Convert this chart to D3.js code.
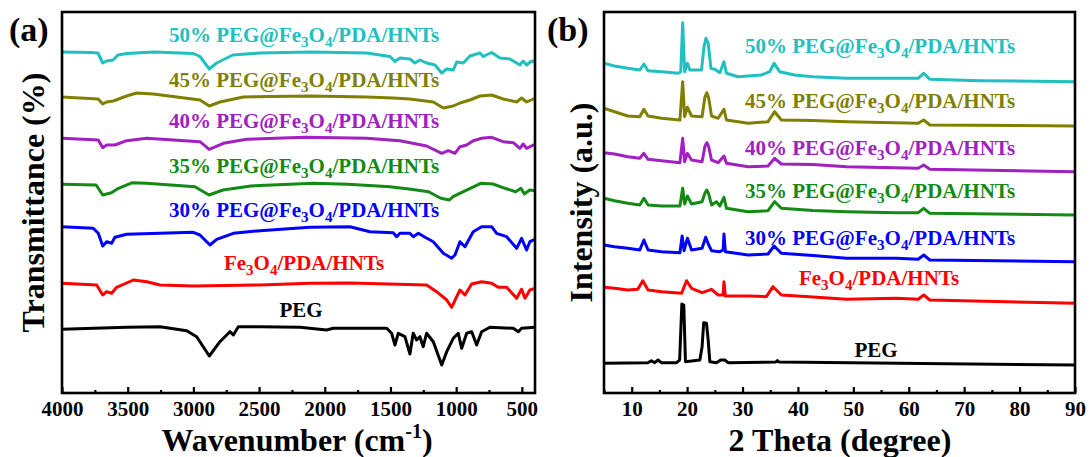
<!DOCTYPE html>
<html>
<head>
<meta charset="utf-8">
<script src="https://cdn.jsdelivr.net/npm/d3@7"></script>
<style>
    body { margin: 0; background: #fff; }
    text { font-family: "Liberation Serif", "Times New Roman", serif; font-weight: bold; }
</style>
</head>
<body>
<svg id="chart" width="1092" height="457"></svg>
<script>
// Series names, bottom to top
const seriesNames = ['PEG', 'Fe3O4/PDA/HNTs', '30% PEG@Fe3O4/PDA/HNTs', '35% PEG@Fe3O4/PDA/HNTs',
    '40% PEG@Fe3O4/PDA/HNTs', '45% PEG@Fe3O4/PDA/HNTs', '50% PEG@Fe3O4/PDA/HNTs'];

// FTIR spectra: [wavenumber, transmittance (a.u., offset)]
const ftirPEG = [[4000,63.7],[3508,65.7],[3254,66.3],[3051,62.3],[2975,56.3],[2925,46.3],[2879,37],[2836,44.7],[2798,51.3],[2760,56.3],[2722,61.3],[2696,58],[2658,66.3],[2493,66.3],[2189,65.7],[1986,63],[1935,64.7],[1529,64.7],[1491,59.7],[1466,48],[1441,59.7],[1390,56.3],[1352,39],[1327,59.7],[1301,53],[1276,56.3],[1251,46.3],[1225,59.7],[1174,51.3],[1110,28],[1072,41.3],[1022,54.7],[984,59.7],[958,44.7],[920,59.7],[882,61.3],[844,48],[806,61.3],[743,65.7],[565,64.7],[527,61.3],[502,64.7],[400,65.7]];
const ftirFe = [[4000,109.7],[3736,108],[3690,98],[3660,101.3],[3622,99.7],[3584,105.7],[3457,113],[3355,111.3],[3254,108],[3001,107],[2493,108],[2113,109.7],[1808,110],[1225,108],[1149,101.3],[1072,93],[1034,85.7],[996,96.3],[971,103],[933,98],[882,109],[806,111.3],[730,109.7],[680,105.7],[616,105.7],[540,94.7],[502,103.7],[476,94.7],[439,103],[400,104.7]];
const ftir30 = [[4000,166.3],[3762,164.7],[3724,159.7],[3690,147],[3660,151.3],[3622,149.7],[3597,155.7],[3508,158.7],[3254,159.7],[3001,160.7],[2950,158],[2874,148],[2823,153.7],[2696,159.7],[2493,162.3],[2113,165.7],[1808,166.3],[1656,161.3],[1479,160.3],[1453,156.3],[1428,159.7],[1352,159.7],[1326,156.3],[1288,159.7],[1237,155.7],[1174,151.3],[1098,139.7],[1034,134.7],[1009,138],[971,151.3],[933,146.3],[870,161.3],[806,166.3],[730,166.3],[692,159.7],[616,156.3],[540,144.7],[502,154.7],[464,143],[439,151.3],[400,153.7]];
const ftir35 = [[4000,208.7],[3740,208],[3690,198],[3624,200.3],[3570,204.7],[3464,210.3],[3358,209.7],[2988,206.3],[2881,198],[2775,203],[2563,207],[2085,209.7],[1823,208.7],[1504,206.3],[1344,203.7],[1210,201.3],[1117,194.7],[1051,193],[1024,196.3],[945,201.3],[865,206.3],[813,209.7],[720,209],[628,204.7],[547,201.3],[507,204.7],[481,199],[441,203],[400,202.3]];
const ftir40 = [[4000,254.7],[3724,253],[3690,245.3],[3660,248],[3597,248],[3508,252.3],[3355,254.7],[2950,251.3],[2879,243.7],[2772,249.7],[2594,253.7],[2150,255.7],[1681,254.7],[1428,252.3],[1225,247],[1110,239.7],[1060,242.3],[1009,239.7],[971,246.3],[920,248],[870,252.3],[806,254.7],[730,255.7],[642,251.3],[565,250.3],[515,244.7],[490,249],[464,244.7],[413,248],[400,248]];
const ftir45 = [[4000,296],[3724,294],[3690,289],[3660,291],[3610,292],[3508,297],[3432,300],[3305,299],[3127,296],[2950,293],[2879,287],[2798,291],[2620,296],[2113,297],[1681,296],[1479,295],[1352,294],[1174,291],[1098,285],[1022,287],[971,290],[895,293],[819,297],[730,298],[642,294],[540,291],[502,295],[464,291],[413,294],[400,294]];
const ftir50 = [[4000,341],[3780,340.5],[3726,340],[3690,330],[3660,332],[3612,333],[3574,338],[3508,339.5],[3300,341],[3000,339.5],[2950,336.5],[2879,324],[2823,330],[2699,338],[2493,340],[2113,341],[1681,340],[1504,336.5],[1466,331.5],[1428,335],[1352,334],[1314,330],[1276,333],[1225,330],[1161,328],[1110,320],[1072,324],[1022,323],[996,331],[946,330],[895,337],[819,340],[794,336.5],[730,340.5],[667,335],[591,334],[515,328],[490,332],[464,328],[426,332],[400,331]];

// XRD patterns: [2 theta, intensity (a.u., offset)]
const xrdPEG = [[5,29.7],[12.9,30.3],[13.55,32.3],[14.15,30.3],[14.75,33],[15.35,30.3],[18.1,30.3],[18.65,33],[19.05,89],[19.4,88],[19.7,31.3],[22.3,33],[22.7,46.3],[23.0,70.3],[23.5,69.7],[23.8,53],[24.1,31.3],[25.3,30.3],[26.05,33],[26.8,33],[27.4,30.3],[36,31],[36.3,32.5],[36.6,31],[90,28]];
const xrdFe = [[5,105.7],[6.9,104.7],[9.3,103],[11.1,103.7],[12.0,112.3],[12.95,103],[15.4,101.3],[19.0,99.7],[19.9,112.3],[20.8,104.7],[22.7,100.3],[24.4,103.7],[25.6,98],[26.5,98],[26.65,111.3],[26.9,97],[31,97],[34.3,96.3],[35.5,106.3],[37,98],[42.7,96],[48.8,93.7],[57.8,94.7],[61.7,93.7],[62.7,98],[63.8,93],[90,89.7]];
const xrd30 = [[5,148],[6.9,146.3],[9.3,144.7],[11.45,143],[12.2,153],[12.95,143],[15.4,141.3],[18.7,140.3],[19.1,157],[19.45,142.3],[20.05,154.7],[20.8,143],[22.7,144.7],[23.35,155.7],[23.9,148],[24.4,142.3],[25.9,141.3],[26.5,143],[26.65,159],[26.9,141.3],[31,138],[34.6,139],[35.7,147],[37,139.7],[42.7,137.5],[48.8,134.7],[57.8,134.7],[61.7,133.7],[62.7,138],[63.8,133],[90,131.3]];
const xrd35 = [[5,194.7],[6.9,192.3],[9.3,189.7],[11.45,188],[12.2,194.7],[12.95,188],[15.4,187],[18.7,187],[19.2,204.7],[19.55,189],[20.05,197],[20.8,189],[22.7,191.3],[23.2,199.7],[23.55,203],[23.9,199],[24.4,188],[25.3,191.3],[25.9,187],[26.65,195.7],[27.1,184.7],[31,181.3],[34.6,182.3],[35.8,191.3],[37,184.7],[42.7,182.5],[48.8,181.3],[57.8,180.3],[61.7,180.3],[62.7,184.7],[63.8,179.7],[90,178]];
const xrd40 = [[5,240.3],[6.9,239],[9.3,236.3],[11.45,234.7],[12.2,239.7],[12.95,233.7],[15.4,232.3],[18.7,230.3],[19.2,254.7],[19.55,231.3],[20.05,239.7],[20.8,233],[22.7,231.3],[23.2,246.3],[23.55,250.3],[23.9,246.3],[24.4,233],[25.6,230.3],[26.65,237],[27.1,229.7],[31,226.3],[34.6,227],[35.8,234.7],[37,229],[42.7,228.5],[48.8,226.3],[61.7,224.7],[62.7,228],[63.8,223.7],[90,221.3]];
const xrd45 = [[5,284.7],[6.9,281.3],[9.3,277],[11.45,276.3],[12.2,283.7],[12.95,277],[15.4,274.7],[18.7,273],[19.2,311.3],[19.55,276.3],[20.05,285.7],[20.8,277],[22.7,276.3],[23.2,295.7],[23.55,300.3],[23.9,294.7],[24.4,277],[25.6,274.7],[26.65,283.7],[27.1,273],[31,269.7],[34.6,271.3],[35.8,281.3],[37,273],[42.7,272.5],[48.8,271.3],[61.7,269.7],[62.7,273],[63.8,268],[90,267]];
const xrd50 = [[5,329.7],[6.9,327],[9.3,324.7],[11.45,323],[12.2,329],[12.95,322.3],[15.4,321.3],[18.4,319.7],[18.85,321.3],[19.2,370.3],[19.55,321.3],[20.05,329.7],[20.5,323],[22.6,323],[23.05,346.3],[23.4,354.7],[23.8,349.7],[24.3,324.7],[25,323.7],[25.9,320.3],[26.65,331.3],[27.1,319.7],[29.2,316.3],[33.4,318],[34.9,321.3],[35.7,329.7],[36.7,321.3],[39.4,318],[42.7,316.3],[48.8,314.7],[61.7,314.7],[62.7,319.7],[63.8,313.7],[72.8,312.3],[90,311.3]];

// Tick values
const ftirTicks = [4000, 3500, 3000, 2500, 2000, 1500, 1000, 500];
const ftirMinor = [3750, 3250, 2750, 2250, 1750, 1250, 750];
const xrdTicks = [10, 20, 30, 40, 50, 60, 70, 80, 90];
const xrdMinor = [5, 15, 25, 35, 45, 55, 65, 75, 85];

const colors = ['#000000', '#ff0000', '#0000ff', '#138a13', '#a020c0', '#808000', '#20c0c0'];

const svg = d3.select('#chart');

// Label with chemical subscripts (digit right after a letter)
function chemText(sel, str) {
    const parts = str.split(/(?<=[A-Za-z])(\d)/);
    parts.forEach((p, i) => {
        if (p === '') return;
        if (i % 2 === 1) {
            sel.append('tspan').attr('font-size', '0.72em').attr('dy', 5).text(p);
        } else {
            sel.append('tspan').attr('dy', i > 0 ? -5 : 0).text(p);
        }
    });
}

function drawPanel(cfg) {
    const { left, right, top, bottom } = cfg;
    const g = svg.append('g');

    const x = d3.scaleLinear().domain(cfg.xDomain).range([left, right]);
    const y = d3.scaleLinear().domain([0, 381]).range([bottom, top]);

    const line = d3.line().x(d => x(d[0])).y(d => y(d[1]));

    // Curves
    cfg.series.forEach((s, i) => {
        g.append('path')
            .datum(s)
            .attr('fill', 'none')
            .attr('stroke', colors[i])
            .attr('stroke-width', 3)
            .attr('stroke-linejoin', 'round')
            .attr('d', line);
    });

    // Curve labels
    seriesNames.forEach((name, i) => {
        const t = g.append('text')
            .attr('x', cfg.labelX[i])
            .attr('y', cfg.labelY[i])
            .attr('text-anchor', 'middle')
            .attr('font-size', 21)
            .attr('fill', colors[i]);
        chemText(t, name);
    });

    // Major ticks (inward) with labels
    const axis = g.append('g')
        .attr('transform', `translate(0,${bottom})`)
        .call(d3.axisBottom(x).tickValues(cfg.ticks).tickFormat(d3.format('d'))
            .tickSizeInner(-6).tickSizeOuter(0).tickPadding(8));
    axis.select('.domain').remove();
    axis.selectAll('line').attr('stroke-width', 2.2);
    axis.selectAll('text').attr('font-size', 21).attr('fill', '#000')
        .style('font-family', '"Liberation Serif", serif').style('font-weight', 'bold');

    // Minor ticks
    const minor = g.append('g')
        .attr('transform', `translate(0,${bottom})`)
        .call(d3.axisBottom(x).tickValues(cfg.minor).tickSizeInner(-3).tickSizeOuter(0).tickFormat(''));
    minor.select('.domain').remove();
    minor.selectAll('line').attr('stroke-width', 2.2);

    // Frame
    g.append('rect')
        .attr('x', left).attr('y', top)
        .attr('width', right - left).attr('height', bottom - top)
        .attr('fill', 'none').attr('stroke', '#000').attr('stroke-width', 2.6);

    // X-axis title
    const xt = g.append('text')
        .attr('x', cfg.xTitleX).attr('y', 451)
        .attr('text-anchor', 'middle').attr('font-size', 32);
    xt.append('tspan').text(cfg.xTitle[0]);
    if (cfg.xTitle[1]) {
        xt.append('tspan').attr('font-size', 20).attr('dy', -13).text(cfg.xTitle[1]);
        xt.append('tspan').attr('dy', 13).text(cfg.xTitle[2]);
    }

    // Y-axis title
    g.append('text')
        .attr('transform', `translate(${cfg.yTitleX},${(top + bottom) / 2}) rotate(-90)`)
        .attr('text-anchor', 'middle').attr('font-size', 32)
        .text(cfg.yTitle);

    // Panel letter
    g.append('text')
        .attr('x', cfg.letterX).attr('y', 41)
        .attr('font-size', 34)
        .text(cfg.letter);
}

drawPanel({
    left: 62, right: 535, top: 12, bottom: 393,
    xDomain: [4000, 400],
    series: [ftirPEG, ftirFe, ftir30, ftir35, ftir40, ftir45, ftir50],
    ticks: ftirTicks, minor: ftirMinor,
    labelX: [301, 304, 304, 304, 304, 304, 304],
    labelY: [317, 270, 217, 173, 128, 87, 42],
    xTitle: ['Wavenumber (cm', '-1', ')'], xTitleX: 297,
    yTitle: 'Transmittance (%)', yTitleX: 44,
    letter: '(a)', letterX: 9
});

drawPanel({
    left: 604, right: 1075, top: 12, bottom: 393,
    xDomain: [5, 90],
    series: [xrdPEG, xrdFe, xrd30, xrd35, xrd40, xrd45, xrd50],
    ticks: xrdTicks, minor: xrdMinor,
    labelX: [876, 879, 880, 880, 880, 880, 880],
    labelY: [357, 285, 245, 198, 155, 108, 53],
    xTitle: ['2 Theta (degree)'], xTitleX: 840,
    yTitle: 'Intensity (a.u.)', yTitleX: 592,
    letter: '(b)', letterX: 547
});
</script>
</body>
</html>
